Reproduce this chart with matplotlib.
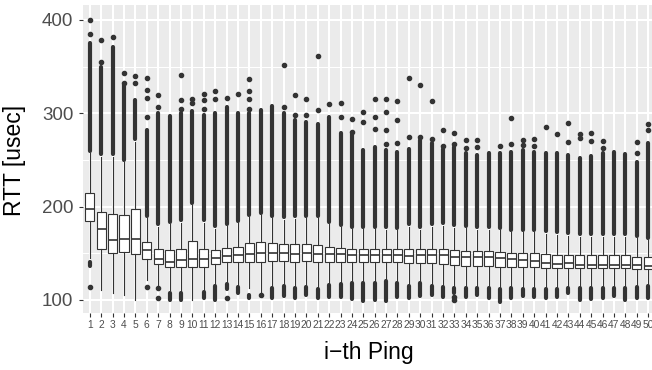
import numpy as np
import matplotlib
matplotlib.use("Agg")
import matplotlib.pyplot as plt

plt.rcParams['font.family'] = ['Liberation Sans', 'DejaVu Sans']

categories = [str(i) for i in range(1, 51)]

q1 = [185.0,154.3,150.0,151.8,149.3,143.6,138.6,135.0,135.0,135.0,135.8,138.3,140.4,140.4,140.4,140.4,141.8,141.8,141.1,141.5,
      140.4,141.1,140.4,140.4,140.4,140.4,141.1,140.4,139.3,140.0,139.3,138.6,137.6,136.9,136.5,136.5,135.8,135.8,135.0,135.0,
      134.7,134.3,134.3,134.3,134.3,134.3,134.3,134.3,133.6,133.6]
med = [197.2,175.8,164.3,165.8,165.8,153.3,144.3,141.1,143.0,144.3,143.6,145.4,147.5,148.3,149.3,150.0,150.0,150.0,149.3,150.0,
       149.3,149.3,149.3,147.9,147.9,148.3,148.6,147.9,147.2,147.9,147.9,147.9,145.8,145.8,145.8,145.8,144.7,144.0,143.0,142.2,
       140.1,138.6,139.3,137.9,137.9,137.9,137.9,137.9,137.2,136.5]
q3 = [214.3,194.0,191.8,191.5,197.2,161.8,154.7,153.6,154.3,162.9,154.7,153.6,155.8,157.2,160.8,161.8,160.8,159.7,159.7,160.0,
      159.3,157.2,155.4,154.7,154.7,154.7,155.0,154.3,155.0,154.3,155.0,155.0,153.6,152.9,152.2,152.2,151.5,150.8,150.0,150.0,
      149.3,148.6,148.6,147.9,147.9,147.9,147.9,147.9,146.5,145.8]
whis_hi = [257,253.6,253.6,248,269.7,187.5,178.5,181,183,201.8,183,176.5,179,182,189,191,187.5,186,187,187.5,
           187.5,181,178,176,176,176,175.5,175,178.5,175.5,178.5,179.5,177.5,177,175.5,175.5,175,173,172.5,172.5,
           171,170,169,168,168,168,168,168,166,164]
whis_lo = [144.7,110.8,107.2,105.4,100.0,121.5,116,110.8,109,100,110.8,117,119.7,116,112.6,109,114,116,114,114.5,
           112.6,117.5,118.5,119.5,119.5,119.5,121,119.5,116.5,119,116.5,114.5,114,113.5,113.5,113.5,112.5,113.5,113,113,
           113,113,114,114,114,114,114,114,114.5,115.5]

# dense (overplotted) outlier columns: top of the upper column
upper_dense_top = [375,350,371,330,314,282,300,297,300,303,298,300,307,300,300,304,308,300,293,291,
                   289,296,279,278,261,264,261,259,262,271,268,262,264,257,255,257,257,259,261,259,
                   257,258,255,252,254,257,259,256,248,268]
# lower overplotted columns (bottom, top); nan = none
lower_dense_bot = [136.9,np.nan,np.nan,np.nan,np.nan,np.nan,np.nan,100,100,np.nan,102,100.5,111.5,107,101.8,np.nan,101.8,104,102.6,105.4,
                   101.8,103.6,103.6,100.8,99.4,100.5,99.4,103,102,104.3,105.4,103,108,103.6,105.4,101.9,98.3,102,104.3,103.6,
                   101.9,103,107.2,100.1,100.8,101.9,104.3,100.1,101.9,101.9]
lower_dense_top = [141,np.nan,np.nan,np.nan,np.nan,np.nan,np.nan,108,107,np.nan,109,115,117,114,105.4,np.nan,113,115,113,113.5,
                   111.5,116.5,117.5,118.5,118.5,118.5,120,118.5,115.5,118,115.5,113.5,113,112.5,112.5,112.5,111.5,112.5,112,112,
                   112,112,113,113,113,113,113,113,113.5,114.5]
# isolated outliers
fliers = [[384.6,400,114.3],[355,378.5],[381.4],[332.9,342.9],[332,340],[296,316,325,337.5,114.3],[307,319.7,102.6,112.6],[],
          [305,314,341],[310.7,315],[305,314,320.4],[315,324],[316,101.8],[320.7],[305,315.4,324,336.8],[105.4],[],
          [306.4,351.4],[298,320],[298,315],[303.6,361.4],[309.7],[295.7,310.7],[280,294],[291,301],[282.9,296.4,315],
          [267,282,301.8,315],[267.9,292.9,313.2],[275,337.5],[274.3,330.7],[272,313.2],[265.4,282.2],[267,278.6,100.1,103.6],
          [262.5,271.5],[264,271.5],[],[265],[267,294.7],[266,271.5],[265,272],[285],[277.9],[269.7,289.7],[274,277.5],
          [270.7,278.6],[262.5,270.4],[],[],[257,269.7],[282,288.6]]

yticks = [100, 200, 300, 400]

W, H = 652, 370
fig = plt.figure(figsize=(W/100, H/100), dpi=100)
fig.patch.set_facecolor('white')
ax = fig.add_axes([83/W, (H-313)/H, 572/W, 308/H])
ax.set_facecolor('#EBEBEB')

dark = '#333333'
pos = np.arange(1, len(categories)+1)

# grid
for v in yticks:
    ax.axhline(v, color='white', lw=1.5, zorder=0)
for v in [150, 250, 350]:
    ax.axhline(v, color='white', lw=0.75, zorder=0)
for p in pos:
    ax.axvline(p, color='white', lw=1.5, zorder=0)

# dense outlier columns
lc = ax.vlines(pos, np.array(whis_hi) + 2.5, upper_dense_top, colors=dark, lw=3.0, zorder=2)
lc.set_capstyle('round')
lb = np.array(lower_dense_bot); lt = np.array(lower_dense_top)
m = ~np.isnan(lb)
lc2 = ax.vlines(pos[m], lb[m], lt[m], colors=dark, lw=3.0, zorder=2)
lc2.set_capstyle('round')

stats = []
for i in range(len(categories)):
    stats.append(dict(med=med[i], q1=q1[i], q3=q3[i], whislo=whis_lo[i], whishi=whis_hi[i],
                      fliers=fliers[i], label=categories[i]))
ax.bxp(stats, positions=pos, widths=0.8, showcaps=False, patch_artist=True,
       boxprops=dict(facecolor='white', edgecolor=dark, linewidth=0.8),
       whiskerprops=dict(color=dark, linewidth=0.8),
       medianprops=dict(color=dark, linewidth=1.2),
       flierprops=dict(marker='o', markersize=3.0, markerfacecolor=dark, markeredgecolor=dark, linestyle='none'),
       zorder=3)

ax.set_xlim(0.4, 50.6)
ax.set_ylim(86.07, 416.07)
ax.set_yticks(yticks)
ax.set_yticklabels([str(v) for v in yticks])
ax.set_xticks(pos)
ax.set_xticklabels(categories)
for s in ax.spines.values():
    s.set_visible(False)
ax.tick_params(axis='y', length=3, width=0.8, color=dark, labelcolor='#4D4D4D', labelsize=13.5, pad=4)
ax.tick_params(axis='x', length=3, width=0.8, color=dark, labelcolor='#4D4D4D', labelsize=7.4, pad=2)

fig.text(369/W, 1 - 352/H, 'i\u2212th Ping', ha='center', va='center', fontsize=16.5, color='black')
fig.text(15/W, 1 - 160/H, 'RTT [usec]', ha='center', va='center', rotation=90, fontsize=16.5, color='black')

fig.savefig('out.png', dpi=100)
